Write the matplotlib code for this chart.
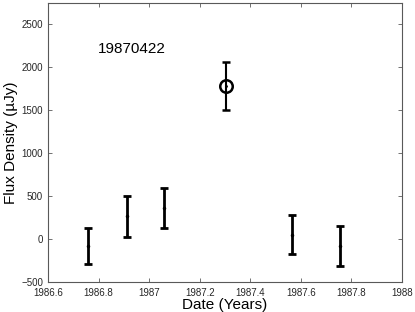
import matplotlib
matplotlib.use("Agg")
import matplotlib.pyplot as plt

plt.rcParams['font.family'] = ['Liberation Sans', 'DejaVu Sans']

# data
dates = [1986.759, 1986.912, 1987.057, 1987.563, 1987.753]
flux = [-81, 263, 364, 53, -78]
errs = [205, 235, 236, 225, 232]

peak_date = [1987.302]
peak_flux = [1786]
peak_err = [281]

label = "19870422"
xticks = [1986.6, 1986.8, 1987, 1987.2, 1987.4, 1987.6, 1987.8, 1988]
xticklabels = ["1986.6", "1986.8", "1987", "1987.2", "1987.4", "1987.6", "1987.8", "1988"]
yticks = [-500, 0, 500, 1000, 1500, 2000, 2500]

fig = plt.figure(figsize=(4.15, 3.12), dpi=100)
ax = fig.add_axes([48 / 415, 30 / 312, 354 / 415, 279 / 312])

ax.errorbar(dates, flux, yerr=errs, fmt='.', color='k', ms=3,
            elinewidth=2, capsize=3, capthick=2)
ax.errorbar(peak_date, peak_flux, yerr=peak_err, fmt='o', color='k', ms=9,
            mfc='none', mew=1.8, elinewidth=1.5, capsize=3, capthick=1.5)
ax.plot(peak_date, peak_flux, '.', color='k', ms=2)

ax.text(1986.798, 2213, label, fontsize=11, va='center')

ax.set_xlim(1986.6, 1988)
ax.set_ylim(-500, 2750)
ax.set_xticks(xticks)
ax.set_xticklabels(xticklabels)
ax.set_yticks(yticks)
ax.tick_params(direction='in', top=True, right=True, labelsize=7, length=3,
               width=0.6, color='0.35', labelcolor='0.15')
ax.tick_params(axis='x', pad=4)
for s in ax.spines.values():
    s.set_linewidth(0.8)
    s.set_color('0.35')

ax.set_xlabel("Date (Years)", fontsize=11, labelpad=0)
ax.set_ylabel("Flux Density (\u00b5Jy)", fontsize=11, labelpad=2)

fig.savefig("out.png", dpi=100)
